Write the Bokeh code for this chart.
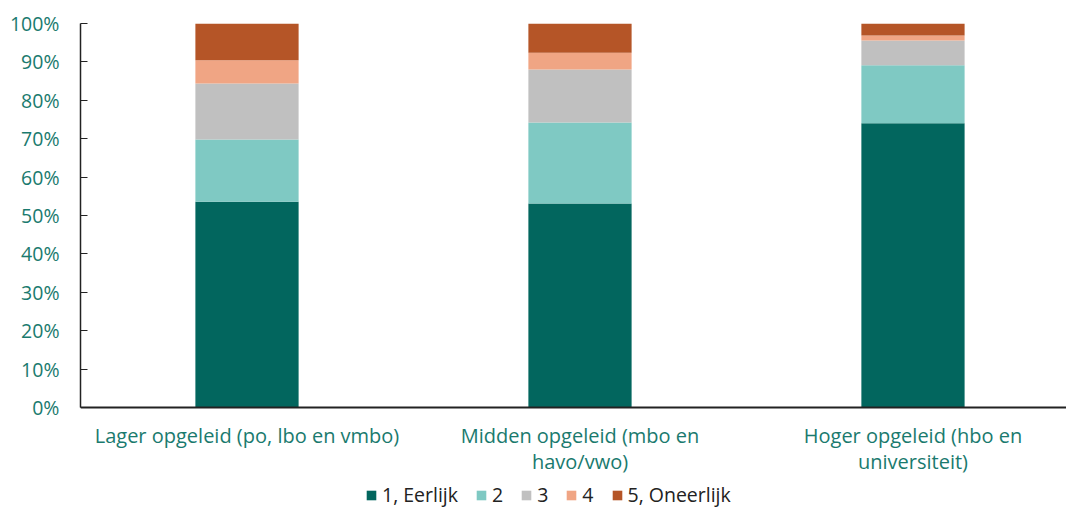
from bokeh.plotting import figure
from bokeh.models import ColumnDataSource, Range1d, NumeralTickFormatter, FixedTicker, Legend, LegendItem
from bokeh.embed import file_html
from bokeh.resources import INLINE

categories = ["Lager opgeleid (po, lbo en vmbo)",
              "Midden opgeleid (mbo en\nhavo/vwo)",
              "Hoger opgeleid (hbo en\nuniversiteit)"]
series = ["1, Eerlijk", "2", "3", "4", "5, Oneerlijk"]
v1 = [0.536, 0.531, 0.740]
v2 = [0.162, 0.211, 0.151]
v3 = [0.146, 0.138, 0.065]
v4 = [0.060, 0.044, 0.013]
v5 = [0.096, 0.076, 0.031]
colors = ["#02665e", "#7fc9c3", "#c0c0c0", "#f0a584", "#b55527"]

FONT = "Open Sans"
TEXT = "#1a7a6e"

xs = [i + 0.5 for i in range(len(categories))]
src = ColumnDataSource(dict(x=xs, s1=v1, s2=v2, s3=v3, s4=v4, s5=v5))

# frame extends below the zero line so the legend can sit inside it
p = figure(frame_width=986, frame_height=497, output_backend="svg", toolbar_location=None,
           x_range=Range1d(0, 2.961), y_range=Range1d(-0.2943, 1))
p.min_border_left = 80
p.min_border_right = 0
p.min_border_top = 23
p.min_border_bottom = 0
p.outline_line_color = None
p.xgrid.grid_line_color = None
p.ygrid.grid_line_color = None

rs = p.vbar_stack(["s1", "s2", "s3", "s4", "s5"], x="x", width=0.31, color=colors,
                  line_color=None, source=src)

p.yaxis.ticker = FixedTicker(ticks=[i / 10 for i in range(11)])
p.yaxis.bounds = (0, 1)
p.yaxis.formatter = NumeralTickFormatter(format="0%")
p.yaxis.major_tick_in = 7
p.yaxis.major_tick_out = 0
p.yaxis.minor_tick_line_color = None
p.yaxis.axis_line_color = "#222222"
p.yaxis.major_tick_line_color = "#222222"
p.yaxis.axis_line_width = 1.5
p.yaxis.major_label_text_font = FONT
p.yaxis.major_label_text_font_size = "19.5px"
p.yaxis.major_label_text_color = TEXT
p.yaxis.major_label_standoff = 21

p.xaxis.fixed_location = 0
p.xaxis.ticker = FixedTicker(ticks=xs)
p.xaxis.major_label_overrides = {x: c for x, c in zip(xs, categories)}
p.xaxis.major_tick_line_color = None
p.xaxis.minor_tick_line_color = None
p.xaxis.axis_line_color = "#222222"
p.xaxis.axis_line_width = 2
p.xaxis.major_label_text_font = FONT
p.xaxis.major_label_text_font_size = "20px"
p.xaxis.major_label_text_color = TEXT
p.xaxis.major_label_text_line_height = 0.95
p.xaxis.major_label_standoff = 9

legend = Legend(items=[LegendItem(label=s, renderers=[r]) for s, r in zip(series, rs)],
                orientation="horizontal", location=(285, 12))
legend.label_text_font = FONT
legend.label_text_font_size = "19.5px"
legend.label_text_color = "#222222"
legend.glyph_width = 12
legend.glyph_height = 12
legend.label_width = 0
legend.label_standoff = 5
legend.spacing = 17
legend.padding = 0
legend.margin = 0
legend.border_line_color = None
legend.background_fill_alpha = 0
p.add_layout(legend, "center")

open("out.html", "w").write(file_html(p, INLINE))
